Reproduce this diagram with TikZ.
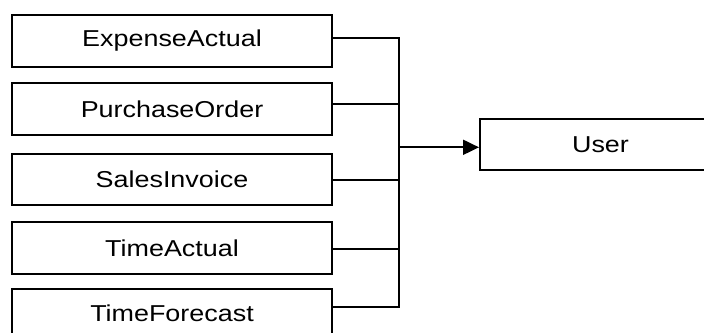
\documentclass[tikz,border=0pt]{standalone}
\usepackage{fontspec}
\usepackage{graphicx}
\setmainfont{Liberation Sans}
\usetikzlibrary{arrows.meta,calc}
% labels are set slightly wide
\newcommand\widelabel[1]{\scalebox{1.17}[1]{#1}}
\tikzset{
  entity/.style={draw=black, line width=2pt, fill=white, rectangle,
    minimum width=320pt, anchor=north west, inner sep=0pt,
    font=\fontsize{23}{27}\selectfont},
  link/.style={draw=black, line width=2pt},
}
\begin{document}
\begin{tikzpicture}[x=1pt, y=-1pt]
  \useasboundingbox (0,0) rectangle (704,332);
  \clip (0,0) rectangle (704,332);
  \fill[white] (0,0) rectangle (704,332);

  % source entities
  \node[entity, minimum height=51.7pt] (b1) at (11,14)  {\widelabel{ExpenseActual}};
  \node[entity, minimum height=52pt]   (b2) at (11,82)  {\widelabel{PurchaseOrder}};
  \node[entity, minimum height=51pt]   (b3) at (11,153) {\widelabel{SalesInvoice}};
  \node[entity, minimum height=51.7pt] (b4) at (11,221) {\widelabel{TimeActual}};
  \node[entity, minimum height=49pt]   (b5) at (11,288) {\widelabel{TimeForecast}};

  % target entity
  \node[entity, minimum width=241pt, minimum height=51.3pt] (user) at (479,118) {\widelabel{User}};

  % junctions on the collecting trunk
  \coordinate (j1) at (399,38.3);
  \coordinate (j2) at (399,104);
  \coordinate (j3) at (399,180);
  \coordinate (j4) at (399,249.3);
  \coordinate (j5) at (399,306.7);
  \coordinate (ja) at (399,147.3);

  \draw[link] (b1.east |- j1) -- (j1);
  \draw[link] (b2.east |- j2) -- (j2);
  \draw[link] (b3.east |- j3) -- (j3);
  \draw[link] (b4.east |- j4) -- (j4);
  \draw[link] (b5.east |- j5) -- (j5);
  \draw[link, line cap=rect] (j1) -- (j5);
  \draw[link, -{Triangle[length=16pt,width=15pt]}] (ja) -- (user.west |- ja);
\end{tikzpicture}
\end{document}
